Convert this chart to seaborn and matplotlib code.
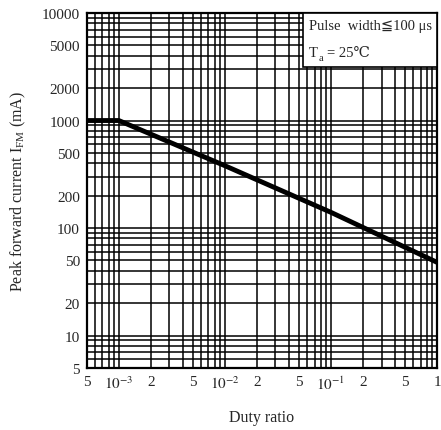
import matplotlib
matplotlib.use("Agg")
from matplotlib import pyplot as plt
from matplotlib.ticker import LogLocator, FixedLocator, NullFormatter
from matplotlib.patches import Rectangle
import seaborn as sns
import pandas as pd

# values
duty = [5e-4, 1e-3, 1e-2, 1e-1, 1.0]
ifm = [1000, 1000, 380, 140, 48]

xticks = [5e-4, 1e-3, 2e-3, 5e-3, 1e-2, 2e-2, 5e-2, 1e-1, 2e-1, 5e-1, 1.0]
xlabels = ["5", "$10^{-3}$", "2", "5", "$10^{-2}$", "2", "5", "$10^{-1}$", "2", "5", "1"]
yticks = [5, 10, 20, 50, 100, 200, 500, 1000, 2000, 5000, 10000]

sns.set_style("white")
plt.rcParams['font.family'] = ['Liberation Serif', 'DejaVu Serif', 'DejaVu Sans']
plt.rcParams['mathtext.fontset'] = 'stix'

fig = plt.figure(figsize=(4.41, 4.31), dpi=100)
ax = fig.add_axes([0.197, 0.144, 0.794, 0.8235])

df = pd.DataFrame({"duty": duty, "ifm": ifm})
sns.lineplot(data=df, x="duty", y="ifm", color="black", linewidth=3.5, ax=ax, zorder=5)

ax.set_xscale("log")
ax.set_yscale("log")
ax.set_xlim(5e-4, 1.0)
ax.set_ylim(5, 10000)

ax.xaxis.set_major_locator(FixedLocator(xticks))
ax.set_xticklabels(xlabels)
ax.xaxis.set_minor_locator(LogLocator(base=10, subs=range(1, 10), numticks=20))
ax.xaxis.set_minor_formatter(NullFormatter())
ax.yaxis.set_major_locator(FixedLocator(yticks))
ax.set_yticklabels([str(v) for v in yticks])
ax.yaxis.set_minor_locator(LogLocator(base=10, subs=range(1, 10), numticks=20))
ax.yaxis.set_minor_formatter(NullFormatter())

ax.grid(True, which="both", color="black", linewidth=1.1)
ax.tick_params(axis="both", which="both", length=0, labelsize=11, pad=5)
for s in ax.spines.values():
    s.set_linewidth(1.6)
    s.set_color("black")

ax.set_xlabel("Duty ratio", fontsize=11.5, labelpad=12)
ax.set_ylabel("Peak forward current $\\mathregular{I_{FM}}$ (mA)", fontsize=11.5, labelpad=10)

# condition box in the upper right corner
ax.add_patch(Rectangle((0.617, 0.848), 0.383, 0.152, transform=ax.transAxes,
                       facecolor="white", edgecolor="black", linewidth=1.2, zorder=10))
ax.text(0.635, 0.965, "Pulse  width\u2266100 \u03bcs", transform=ax.transAxes,
        ha="left", va="center", fontsize=10.5, zorder=11)
ax.text(0.635, 0.89, "T", transform=ax.transAxes,
        ha="left", va="center", fontsize=10.5, zorder=11)
ax.text(0.661, 0.875, "a", transform=ax.transAxes,
        ha="left", va="center", fontsize=7.5, zorder=11)
ax.text(0.685, 0.89, "= 25\u2103", transform=ax.transAxes,
        ha="left", va="center", fontsize=10.5, zorder=11)

plt.savefig("out.png", dpi=100)
